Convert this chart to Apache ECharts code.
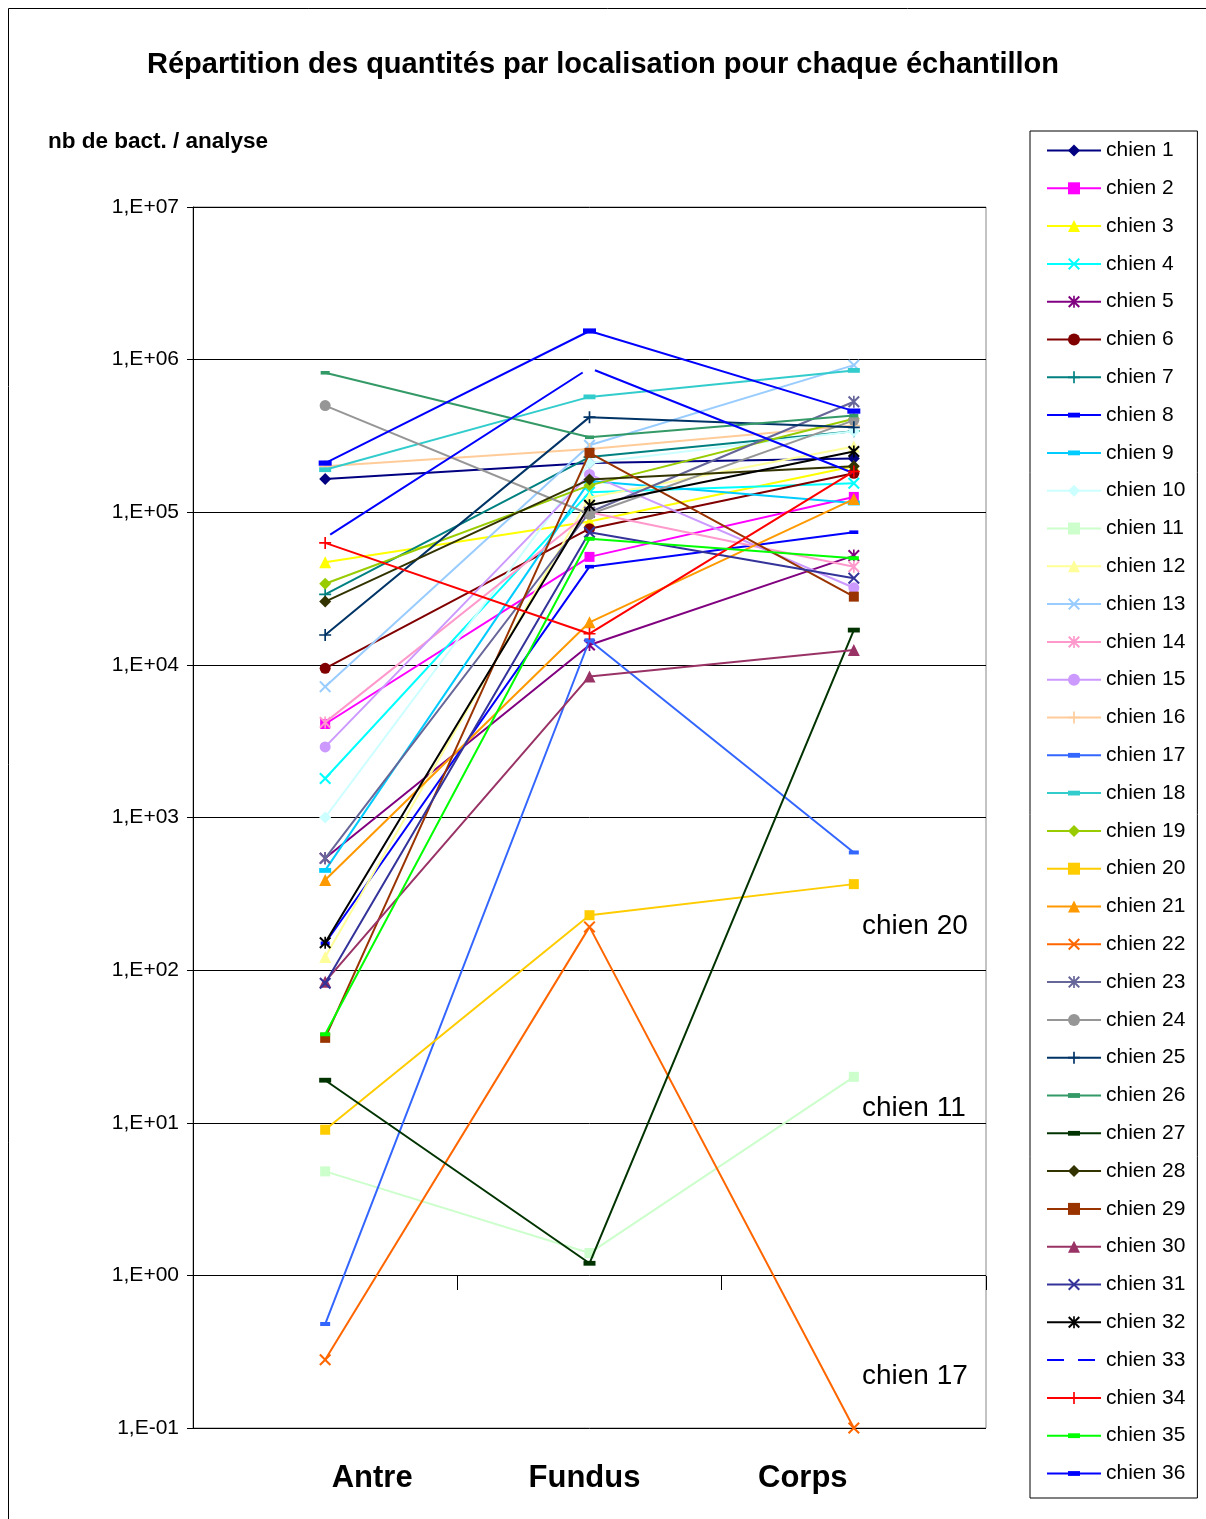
<!DOCTYPE html>
<html><head><meta charset="utf-8">
<script src="https://cdn.jsdelivr.net/npm/echarts@6/dist/echarts.min.js"></script>
<style>html,body{margin:0;padding:0;background:#fff}#c{width:1206px;height:1519px}</style>
</head><body><div id="c"></div>
<script>
const categories = ['Antre', 'Fundus', 'Corps'];
const seriesNames = ['chien 1','chien 2','chien 3','chien 4','chien 5','chien 6','chien 7','chien 8','chien 9','chien 10','chien 11','chien 12','chien 13','chien 14','chien 15','chien 16','chien 17','chien 18','chien 19','chien 20','chien 21','chien 22','chien 23','chien 24','chien 25','chien 26','chien 27','chien 28','chien 29','chien 30','chien 31','chien 32','chien 33','chien 34','chien 35','chien 36'];
const antre  = [1.65e5, 4.1e3, 4.7e4, 1.8e3, 540, 9.5e3, 2.9e4, 150, 450, 1.0e3, 4.8, 122, 7.2e3, 4.2e3, 2.9e3, 2.0e5, 0.48, 1.9e5, 3.4e4, 9, 390, 0.28, 540, 5.0e5, 1.57e4, 8.2e5, 19, 2.6e4, 36, 84, 82, 151, 6.8e4, 6.3e4, 38, 2.1e5];
const fundus = [2.1e5, 5.1e4, 8.7e4, 1.35e5, 1.35e4, 7.8e4, 2.3e5, 4.4e4, 1.6e5, 2.1e5, 1.4, 1.25e5, 2.75e5, 1.0e5, 1.77e5, 2.6e5, 1.45e4, 5.7e5, 1.5e5, 229, 1.9e4, 192, 1.0e5, 9.7e4, 4.2e5, 3.1e5, 1.2, 1.64e5, 2.45e5, 8.4e3, 7.4e4, 1.11e5, 8.8e5, 1.6e4, 6.7e4, 1.54e6];
const corps  = [2.25e5, 1.26e5, 2.0e5, 1.55e5, 5.2e4, 1.8e5, 3.4e5, 7.4e4, 1.15e5, 3.4e5, 20, 2.7e5, 9.2e5, 4.4e4, 3.2e4, 3.7e5, 590, 8.5e5, 4.1e5, 366, 1.22e5, 0.1, 5.3e5, 4.0e5, 3.6e5, 4.3e5, 1.69e4, 2.0e5, 2.8e4, 1.25e4, 3.7e4, 2.5e5, 1.8e5, 1.85e5, 5.0e4, 4.6e5];
const yTickLabels = ['1,E-01','1,E+00','1,E+01','1,E+02','1,E+03','1,E+04','1,E+05','1,E+06','1,E+07'];
const annotations = ['chien 20', 'chien 11', 'chien 17'];

// marker styles
const X = 'path://M0,1.2L1.2,0L5,3.8L8.8,0L10,1.2L6.2,5L10,8.8L8.8,10L5,6.2L1.2,10L0,8.8L3.8,5Z';
const PLUS = 'path://M4.3,0H5.7V4.3H10V5.7H5.7V10H4.3V5.7H0V4.3H4.3Z';
const STAR = 'path://M0,1.2L1.2,0L5,3.8L8.8,0L10,1.2L6.2,5L10,8.8L8.8,10L5,6.2L1.2,10L0,8.8L3.8,5Z M4.3,0H5.7V10H4.3Z';
const DASH = 'path://M5,0L5,0M5,10L5,10M0,3H10V7H0Z';
const colors = ['#000080','#FF00FF','#FFFF00','#00FFFF','#800080','#800000','#008080','#0000FF','#00CCFF','#CCFFFF','#CCFFCC','#FFFF99','#99CCFF','#FF99CC','#CC99FF','#FFCC99','#3366FF','#33CCCC','#99CC00','#FFCC00','#FF9900','#FF6600','#666699','#969696','#003366','#339966','#003300','#333300','#993300','#993366','#333399','#000000','#0000FF','#FF0000','#00FF00','#0000FF'];
const symbols = ['diamond','rect','triangle',X,STAR,'circle',PLUS,DASH,DASH,'diamond','rect','triangle',X,STAR,'circle',PLUS,DASH,DASH,'diamond','rect','triangle',X,STAR,'circle',PLUS,DASH,DASH,'diamond','rect','triangle',X,STAR,'none',PLUS,DASH,DASH];
const sizes = [12,10,12,12,12,11,12,9,12,12,10,12,12,12,11,12,10,12,12,10,12,12,12,11,12,9,12,12,10,12,12,12,0,12,10,13];

const series = seriesNames.map((n, i) => ({
  name: n, type: 'line', xAxisIndex: 0,
  data: [antre[i], fundus[i], corps[i]],
  symbol: symbols[i], symbolSize: sizes[i],
  showSymbol: true,
  lineStyle: i === 32
    ? { color: colors[i], width: 2, type: [300, 14], dashOffset: 308 }
    : { color: colors[i], width: 2, type: 'solid' },
  itemStyle: { color: colors[i], borderWidth: 0 },
  emphasis: { disabled: true },
  z: 2 + i * 0.01
}));

const legendData = seriesNames.map((n, i) => i === 32
  ? { name: n, lineStyle: { type: [17, 14], dashOffset: 0 }, itemStyle: { opacity: 0 } }
  : { name: n });

const chart = echarts.init(document.getElementById('c'), null, { renderer: 'canvas' });
const FF = 'Liberation Sans, Arial, sans-serif';
const catRich = (pad) => ({ fontSize: 31, fontWeight: 'bold', fontFamily: FF, color: '#000', padding: pad });
chart.setOption({
  animation: false,
  backgroundColor: '#fff',
  textStyle: { fontFamily: FF },
  title: {
    text: 'Répartition des quantités par localisation pour chaque échantillon',
    left: 'center', top: 45,
    textStyle: { fontSize: 29, fontWeight: 'bold', color: '#000', fontFamily: FF }
  },
  grid: { left: 193, right: 220, top: 207, bottom: 91, show: true, borderColor: '#888', borderWidth: 1 },
  legend: {
    orient: 'vertical', left: 1030, top: 131,
    itemWidth: 54, itemHeight: 15, itemGap: 16.8,
    padding: [9, 12, 14, 16],
    borderColor: '#000', borderWidth: 1,
    textStyle: { fontSize: 21, color: '#000', fontFamily: FF },
    data: legendData
  },
  xAxis: [{
    type: 'category', data: categories, boundaryGap: true,
    axisLine: { show: false }, axisTick: { show: false },
    axisLabel: {
      margin: 35, color: '#000',
      formatter: (v, i) => '{c' + i + '|' + v + '}',
      rich: {
        c0: catRich([0, 0, 0, 94]),
        c1: catRich([0, 10, 0, 0]),
        c2: catRich([0, 102, 0, 0])
      }
    },
    splitLine: { show: false }
  }, {
    type: 'category', data: categories, boundaryGap: true, position: 'bottom', offset: -152,
    axisLine: { show: false },
    axisTick: { show: true, length: 14, lineStyle: { color: '#000', width: 1 } },
    axisLabel: { show: false }, splitLine: { show: false }
  }],
  yAxis: {
    type: 'log', logBase: 10, min: 0.1, max: 1e7,
    axisLine: { show: true, lineStyle: { color: '#000', width: 1 } },
    axisTick: { show: true, length: 6, lineStyle: { color: '#000' } },
    minorTick: { show: false },
    axisLabel: {
      fontSize: 21, color: '#000', fontFamily: FF, margin: 14,
      formatter: v => yTickLabels[Math.round(Math.log10(v)) + 1]
    },
    splitLine: { show: true, lineStyle: { color: '#000', width: 1 } }
  },
  graphic: [
    { type: 'rect', shape: { x: 8.5, y: 8.5, width: 1400, height: 1700 }, style: { fill: 'none', stroke: '#000', lineWidth: 1 }, silent: true },
    { type: 'text', left: 48, top: 130, style: { text: 'nb de bact. / analyse', font: 'bold 22.5px ' + FF, fill: '#000' } },
    { type: 'text', left: 862, top: 912, style: { text: annotations[0], font: '28px ' + FF, fill: '#000' } },
    { type: 'text', left: 862, top: 1094, style: { text: annotations[1], font: '28px ' + FF, fill: '#000' } },
    { type: 'text', left: 862, top: 1362, style: { text: annotations[2], font: '28px ' + FF, fill: '#000' } }
  ],
  series: series
});
</script></body></html>
